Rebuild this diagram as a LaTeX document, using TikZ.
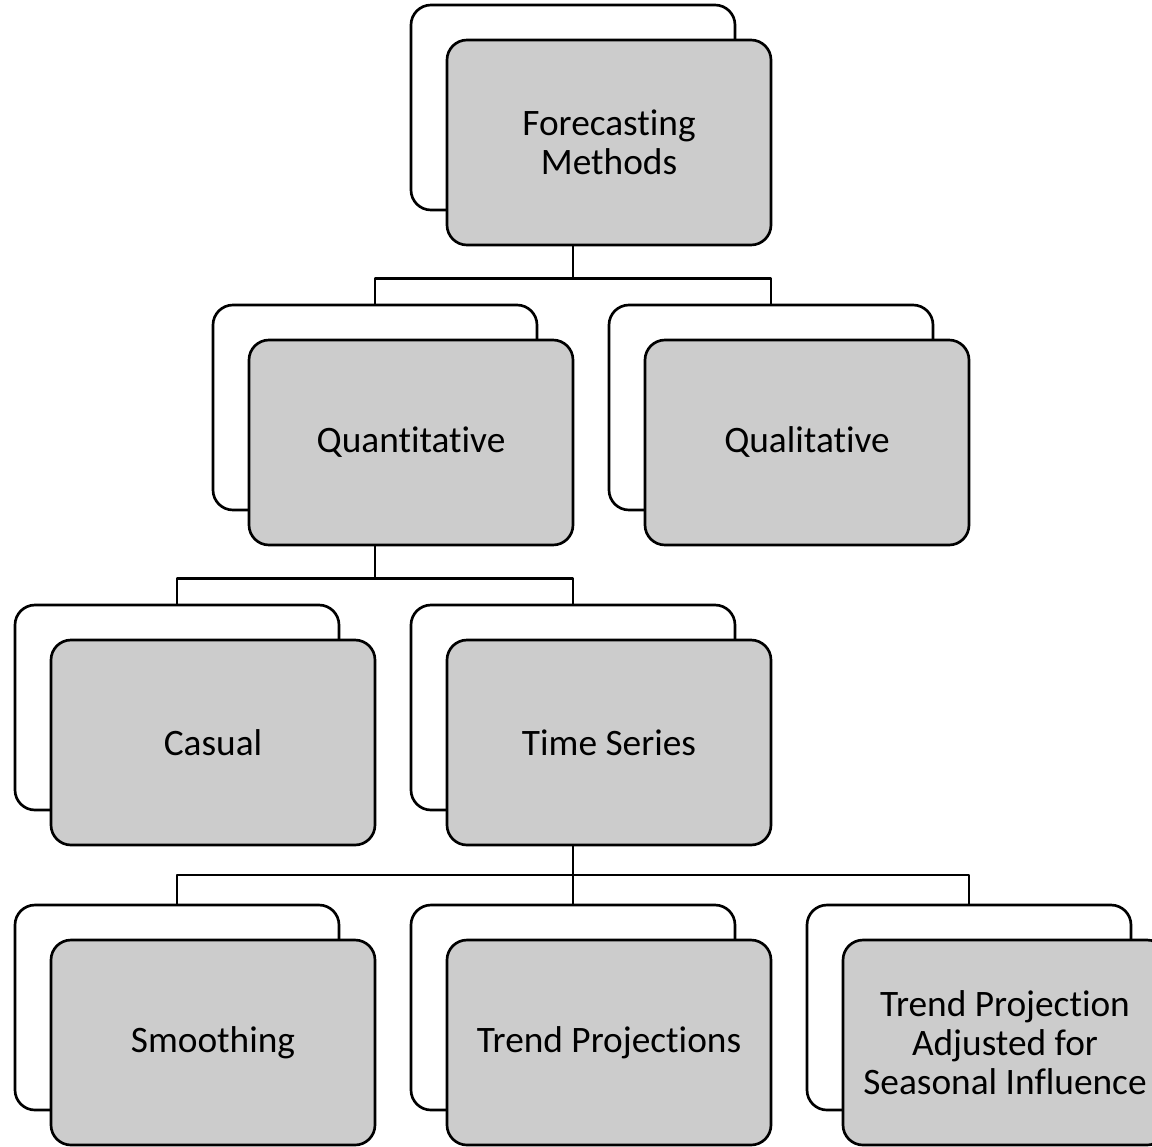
\documentclass[tikz,border=0pt]{standalone}
\usepackage{fontspec}
\setmainfont{Carlito}[Ligatures=NoCommon]
\definecolor{boxgrey}{HTML}{CCCCCC}
\tikzset{
  backbox/.style={draw, line width=2pt, rounded corners=15pt, fill=white,
    minimum width=243pt, minimum height=153.75pt, inner sep=0pt},
  frontbox/.style={backbox, fill=boxgrey, align=center, font=\fontsize{28}{29}\selectfont},
  link/.style={draw, line width=2pt}
}
\begin{document}
\begin{tikzpicture}[x=0.75pt, y=-0.75pt, line join=round]
  \useasboundingbox (0,0) rectangle (1152,1146);
  % level 1
  \node[backbox]  (fmb) at (573,107.5) {};
  \node[frontbox] (fm)  at (609,142.5) {Forecasting\\Methods};
  % level 2
  \node[backbox]  (qnb) at (375,407.5) {};
  \node[frontbox] (qn)  at (411,442.5) {Quantitative};
  \node[backbox]  (qlb) at (771,407.5) {};
  \node[frontbox] (ql)  at (807,442.5) {Qualitative};
  % level 3
  \node[backbox]  (csb) at (177,707.5) {};
  \node[frontbox] (cs)  at (213,742.5) {Casual};
  \node[backbox]  (tsb) at (573,707.5) {};
  \node[frontbox] (ts)  at (609,742.5) {Time Series};
  % level 4
  \node[backbox]  (smb) at (177,1007.5) {};
  \node[frontbox] (sm)  at (213,1042.5) {Smoothing};
  \node[backbox]  (tpb) at (573,1007.5) {};
  \node[frontbox] (tp)  at (609,1042.5) {Trend Projections};
  \node[backbox]  (tab) at (969,1007.5) {};
  \node[frontbox] (ta)  at (1005,1042.5) {Trend Projection\\Adjusted for\\Seasonal Influence};
  % connectors
  \path[link] (fm.south -| fmb.north) -- ++(0,32) coordinate (j1);
  \path[link] (qnb.north) |- (j1) -| (qlb.north);
  \path[link] (qn.south -| qnb.north) -- ++(0,32) coordinate (j2);
  \path[link] (csb.north) |- (j2) -| (tsb.north);
  \path[link] (ts.south -| tsb.north) -- (tpb.north) coordinate[pos=0.5] (j3);
  \path[link] (smb.north) |- (j3) -| (tab.north);
\end{tikzpicture}
\end{document}
